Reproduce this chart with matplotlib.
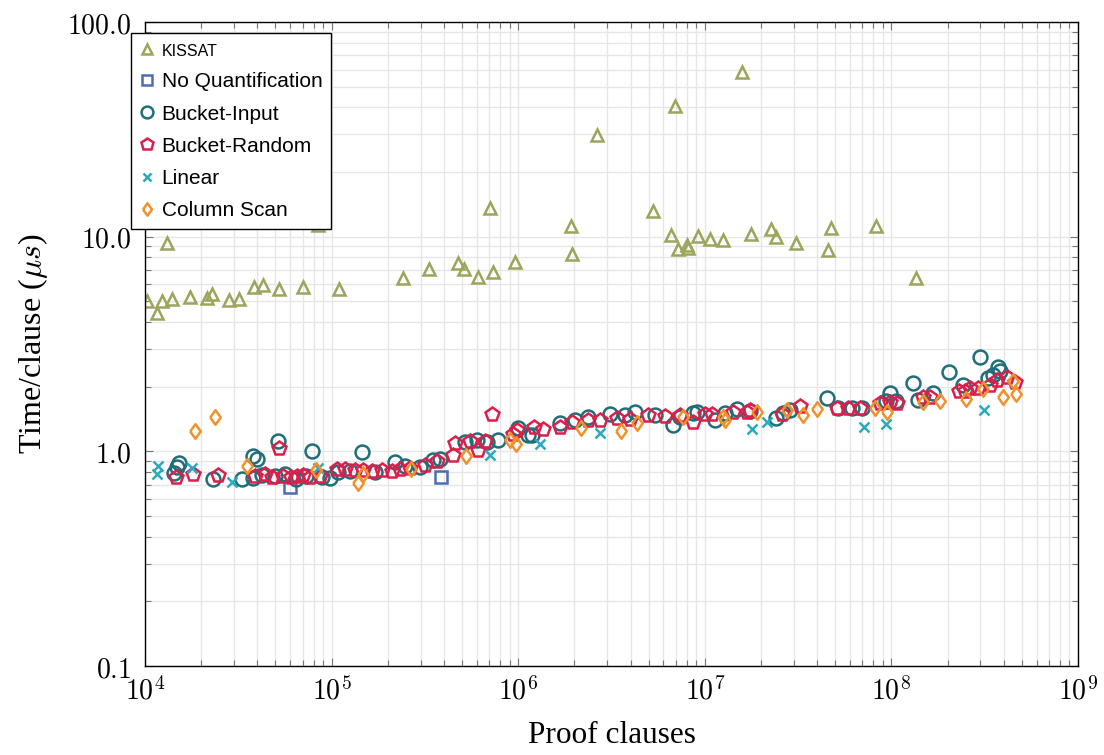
import math
import matplotlib
matplotlib.use("Agg")
import matplotlib.pyplot as plt
from matplotlib.ticker import FuncFormatter, LogLocator, NullFormatter

plt.rcParams['mathtext.fontset'] = 'cm'

# --- data (proof clauses vs time per clause in microseconds) ---
kissat_x = [1.02e4, 1.16e4, 1.23e4, 1.32e4, 1.39e4, 1.74e4, 2.14e4, 2.28e4, 2.82e4, 3.19e4,
            3.85e4, 4.3e4, 5.2e4, 7.0e4, 8.5e4, 1.1e5, 2.42e5, 3.33e5, 4.77e5, 5.14e5,
            6.07e5, 7.36e5, 7.06e5, 9.6e5, 1.92e6, 1.95e6, 2.64e6, 5.26e6, 6.57e6, 6.9e6,
            7.21e6, 8.0e6, 8.17e6, 9.2e6, 1.07e7, 1.25e7, 1.58e7, 1.77e7, 2.27e7, 2.42e7,
            3.07e7, 4.59e7, 4.74e7, 8.24e7, 1.36e8]
kissat_y = [5.0, 4.4, 5.0, 9.3, 5.15, 5.25, 5.2, 5.4, 5.05, 5.1,
            5.8, 5.95, 5.7, 5.85, 11.3, 5.7, 6.4, 7.1, 7.5, 7.05,
            6.5, 6.85, 13.6, 7.6, 11.2, 8.3, 29.8, 13.2, 10.2, 40.6,
            8.8, 9.15, 8.9, 10.05, 9.75, 9.6, 58.3, 10.3, 10.8, 9.95,
            9.3, 8.65, 11.0, 11.2, 6.45]

noquant_x = [5.98e4, 3.84e5]
noquant_y = [0.685, 0.757]

binput_x = [1.43e4, 1.48e4, 1.52e4, 2.31e4, 3.30e4, 3.80e4, 3.97e4, 3.79e4, 5.14e4, 7.82e4,
            6.44e4, 7.29e4, 8.89e4, 9.8e4, 4.24e4, 4.97e4, 5.62e4, 1.08e5, 1.26e5, 1.46e5,
            1.71e5, 2.19e5, 2.47e5, 2.98e5, 3.51e5, 3.81e5, 5.19e5, 6.0e5, 6.78e5, 7.82e5,
            1.0e6, 1.13e6, 1.18e6, 1.67e6, 2.01e6, 2.38e6, 3.10e6, 3.73e6, 4.23e6, 5.41e6,
            6.78e6, 7.36e6, 8.67e6, 9.05e6, 1.13e7, 1.28e7, 1.48e7, 1.75e7, 2.41e7, 2.64e7,
            2.86e7, 4.50e7, 5.2e7, 6.12e7, 6.95e7, 9.36e7, 9.83e7, 1.06e8, 1.31e8, 1.39e8,
            1.68e8, 2.04e8, 2.43e8, 2.98e8, 3.31e8, 3.52e8, 3.74e8, 3.82e8]
binput_y = [0.793, 0.846, 0.883, 0.744, 0.742, 0.951, 0.922, 0.751, 1.12, 1.004,
            0.744, 0.768, 0.76, 0.751, 0.776, 0.768, 0.785, 0.80, 0.81, 0.997,
            0.80, 0.895, 0.855, 0.846, 0.912, 0.918, 1.105, 1.13, 1.11, 1.13,
            1.28, 1.19, 1.19, 1.35, 1.40, 1.45, 1.50, 1.48, 1.53, 1.48,
            1.33, 1.445, 1.51, 1.53, 1.40, 1.51, 1.57, 1.54, 1.43, 1.51,
            1.56, 1.77, 1.59, 1.59, 1.60, 1.72, 1.86, 1.72, 2.08, 1.74,
            1.86, 2.34, 2.04, 2.76, 2.19, 2.27, 2.48, 2.37]

brandom_x = [1.47e4, 1.80e4, 2.47e4, 5.22e4, 3.89e4, 4.40e4, 4.79e4, 5.49e4, 6.06e4, 6.53e4,
             7.03e4, 7.66e4, 8.66e4, 1.07e5, 1.18e5, 1.33e5, 1.47e5, 1.65e5, 1.86e5, 2.11e5,
             2.33e5, 2.63e5, 3.17e5, 3.67e5, 4.46e5, 4.58e5, 6.11e5, 7.21e5, 5.52e5, 6.64e5,
             9.82e5, 9.42e5, 1.21e6, 1.36e6, 1.67e6, 1.94e6, 2.38e6, 2.74e6, 3.37e6, 3.97e6,
             4.98e6, 6.12e6, 7.36e6, 8.61e6, 1.0e7, 1.09e7, 1.42e7, 1.68e7, 1.75e7, 2.58e7,
             3.24e7, 5.09e7, 5.85e7, 6.79e7, 8.69e7, 9.83e7, 1.07e8, 1.48e8, 1.61e8, 2.29e8,
             2.48e8, 2.64e8, 2.92e8, 3.38e8, 3.66e8, 4.15e8, 4.59e8]
brandom_y = [0.757, 0.785, 0.776, 1.04, 0.768, 0.785, 0.760, 0.768, 0.760, 0.768,
             0.776, 0.760, 0.768, 0.828, 0.828, 0.819, 0.819, 0.81, 0.819, 0.81,
             0.828, 0.837, 0.864, 0.903, 0.962, 1.09, 1.015, 1.49, 1.117, 1.117,
             1.258, 1.21, 1.30, 1.27, 1.30, 1.375, 1.40, 1.40, 1.425, 1.415,
             1.477, 1.46, 1.477, 1.375, 1.50, 1.50, 1.53, 1.53, 1.56, 1.50,
             1.627, 1.59, 1.60, 1.59, 1.675, 1.70, 1.675, 1.80, 1.79, 1.90,
             1.91, 1.97, 1.97, 2.04, 2.15, 2.23, 2.11]

linear_x = [1.18e4, 1.155e4, 1.79e4, 2.94e4, 8.49e4, 7.06e5, 1.31e6, 2.74e6, 1.80e7, 2.16e7,
            7.16e7, 9.31e7, 3.13e8]
linear_y = [0.855, 0.782, 0.839, 0.722, 0.834, 0.962, 1.08, 1.22, 1.27, 1.366,
            1.30, 1.34, 1.55]

colscan_x = [1.85e4, 2.37e4, 3.51e4, 8.22e4, 1.38e5, 1.48e5, 2.65e5, 5.23e5, 9.04e5, 9.7e5,
             2.17e6, 3.54e6, 4.32e6, 7.64e6, 1.25e7, 1.28e7, 1.91e7, 2.77e7, 3.37e7, 3.98e7,
             8.17e7, 9.44e7, 1.48e8, 1.82e8, 2.51e8, 3.10e8, 3.94e8, 4.50e8, 4.65e8]
colscan_y = [1.25, 1.45, 0.857, 0.819, 0.71, 0.785, 0.825, 0.951, 1.13, 1.08,
             1.28, 1.25, 1.36, 1.44, 1.45, 1.40, 1.52, 1.56, 1.47, 1.58,
             1.60, 1.53, 1.69, 1.72, 1.75, 1.95, 1.79, 2.13, 1.85]

fig = plt.figure(figsize=(11.04, 7.55), dpi=100)
ax = fig.add_axes([145/1104, 89/755, 933/1104, 644/755])

# pgfplots style diamond: a bit wider than matplotlib's thin diamond
diamond = [(-0.72, 0), (0, 1), (0.72, 0), (0, -1), (-0.72, 0)]

mk = dict(linestyle='none', markerfacecolor='none', markeredgewidth=1.8)
ax.plot(kissat_x, kissat_y, marker='^', ms=9, color='#9da55c', label='KISSAT', **mk)
ax.plot(noquant_x, noquant_y, marker='s', ms=9, color='#4a6db4', label='No Quantification', **mk)
ax.plot(binput_x, binput_y, marker='o', ms=10, color='#1f6e7a', label='Bucket-Input', **mk)
ax.plot(brandom_x, brandom_y, marker='p', ms=10.5, color='#dc1f4a', label='Bucket-Random', **mk)
ax.plot(linear_x, linear_y, marker='x', ms=7, color='#2aabbd', label='Linear', **mk)
ax.plot(colscan_x, colscan_y, marker=diamond, ms=10.5, color='#f0922b', label='Column Scan', **mk)

ax.set_xscale('log')
ax.set_yscale('log')
ax.set_xlim(1e4, 1e9)
ax.set_ylim(0.1, 100)

ax.xaxis.set_major_locator(LogLocator(base=10, numticks=20))
ax.xaxis.set_minor_locator(LogLocator(base=10, subs=range(2, 10), numticks=20))
ax.yaxis.set_major_locator(LogLocator(base=10, numticks=20))
ax.yaxis.set_minor_locator(LogLocator(base=10, subs=range(2, 10), numticks=20))
ax.xaxis.set_major_formatter(FuncFormatter(lambda v, p: r'$10^{%d}$' % round(math.log10(v))))
ax.yaxis.set_major_formatter(FuncFormatter(lambda v, p: r'$%.1f$' % v))
ax.xaxis.set_minor_formatter(NullFormatter())
ax.yaxis.set_minor_formatter(NullFormatter())

ax.grid(True, which='both', color='#e6e6e6', linewidth=1.0)
ax.set_axisbelow(True)
ax.tick_params(which='both', direction='in', top=True, right=True, color='#777777')
ax.tick_params(which='major', length=6, width=0.8, labelsize=20)
ax.tick_params(which='minor', length=4, width=0.8)
ax.tick_params(axis='y', which='major', pad=10)
ax.tick_params(axis='x', which='major', pad=8)
for s in ax.spines.values():
    s.set_linewidth(1.0)
    s.set_color('black')

ax.set_xlabel('Proof clauses', fontsize=22.5, family='Liberation Serif', labelpad=11)
ax.set_ylabel(r'Time/clause ($\mu s$)', fontsize=23, family='Liberation Serif', labelpad=12)

leg = ax.legend(loc='upper left', bbox_to_anchor=(131/1104, 1 - 33/755), bbox_transform=fig.transFigure,
                borderaxespad=0, prop={'family': 'Liberation Sans', 'size': 15}, frameon=True,
                fancybox=False, framealpha=1, edgecolor='black', handlelength=0.7,
                handletextpad=0.35, labelspacing=0.63, borderpad=0.42, markerscale=0.85)
leg.get_frame().set_linewidth(1.0)
leg.get_texts()[0].set_fontsize(11.5)
leg.set_zorder(10)

fig.savefig('out.png', dpi=100)
